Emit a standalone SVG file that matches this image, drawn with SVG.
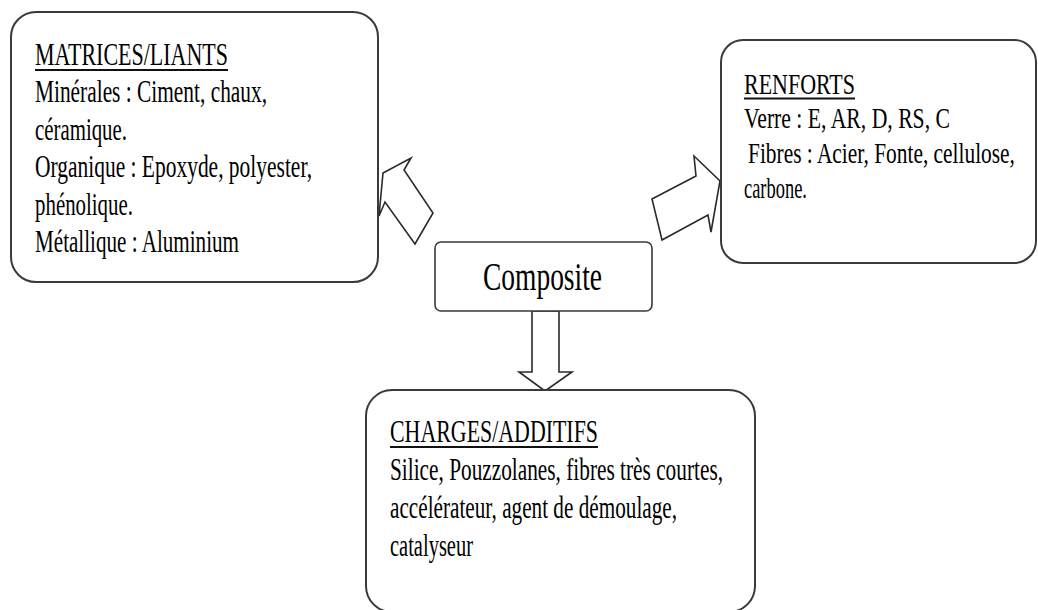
<svg xmlns="http://www.w3.org/2000/svg" width="1038" height="610" viewBox="0 0 1038 610">
<style>
.box{fill:#fff;stroke:#3a3a3a;stroke-width:2}
.arrow{fill:#fff;stroke:#2a2a2a;stroke-width:1.6;stroke-linejoin:miter}
.t{font-family:"Liberation Serif","Times New Roman",serif;fill:#000}
.l{font-size:32px}
.r{font-size:30px}
.c{font-size:40px}
.ul{stroke:#111;stroke-width:2}
</style>
<rect width="1038" height="610" fill="#fff"/>
<g id="connectors">
<polygon class="arrow" points="383,173 411,158 404,170 433,213 415,244 385,202 379,216"/>
<polygon class="arrow" points="652,199 696,176 694,156 720,181 711,232 708,215 662,240"/>
<polygon class="arrow" points="532,311 532,372 519,372 545,391 572,372 559,372 559,311"/>
</g>
<g id="matrices">
<rect class="box" x="11" y="12" width="367" height="270" rx="25"/>
<g transform="matrix(0.68,0,0,1,35,0)">
<text class="t l" x="0" y="65" textLength="283.8" lengthAdjust="spacingAndGlyphs">MATRICES/LIANTS</text>
<text class="t l" x="0" y="102.5" textLength="341.2" lengthAdjust="spacingAndGlyphs">Minérales : Ciment,  chaux,</text>
<text class="t l" x="0" y="140" textLength="135.3" lengthAdjust="spacingAndGlyphs">céramique.</text>
<text class="t l" x="0" y="177.5" textLength="407.4" lengthAdjust="spacingAndGlyphs">Organique : Epoxyde, polyester,</text>
<text class="t l" x="0" y="215" textLength="144.1" lengthAdjust="spacingAndGlyphs">phénolique.</text>
<text class="t l" x="0" y="252.5" textLength="300" lengthAdjust="spacingAndGlyphs">Métallique : Aluminium</text>
</g>
<line class="ul" x1="35" y1="70" x2="228" y2="70"/>
</g>
<g id="renforts">
<rect class="box" x="721" y="40" width="315" height="223" rx="22"/>
<g transform="matrix(0.68,0,0,1,744,0)">
<text class="t r" x="0" y="94" textLength="163.2" lengthAdjust="spacingAndGlyphs">RENFORTS</text>
<text class="t r" x="0" y="128.5" textLength="302.9" lengthAdjust="spacingAndGlyphs">Verre : E, AR, D, RS, C</text>
<text class="t r" x="5.9" y="163" textLength="392.6" lengthAdjust="spacingAndGlyphs">Fibres : Acier, Fonte, cellulose,</text>
<text class="t r" x="0" y="198" textLength="92.6" lengthAdjust="spacingAndGlyphs">carbone.</text>
</g>
<line class="ul" x1="744" y1="98.5" x2="855" y2="98.5"/>
</g>
<g id="composite">
<rect class="box" x="435" y="242" width="217" height="69" rx="6" style="stroke-width:1.6"/>
<g transform="matrix(0.68,0,0,1,483,0)">
<text class="t c" x="0" y="290" textLength="175" lengthAdjust="spacingAndGlyphs">Composite</text>
</g>
</g>
<g id="charges">
<rect class="box" x="366" y="390" width="389" height="222" rx="26"/>
<g transform="matrix(0.68,0,0,1,390,0)">
<text class="t l" x="0" y="442.5" textLength="305.9" lengthAdjust="spacingAndGlyphs">CHARGES/ADDITIFS</text>
<text class="t l" x="0" y="480" textLength="489.7" lengthAdjust="spacingAndGlyphs">Silice, Pouzzolanes, fibres  très courtes,</text>
<text class="t l" x="0" y="518.5" textLength="422.1" lengthAdjust="spacingAndGlyphs">accélérateur,  agent de démoulage,</text>
<text class="t l" x="0" y="556.5" textLength="122.1" lengthAdjust="spacingAndGlyphs">catalyseur</text>
</g>
<line class="ul" x1="390" y1="447" x2="598" y2="447"/>
</g>
</svg>
